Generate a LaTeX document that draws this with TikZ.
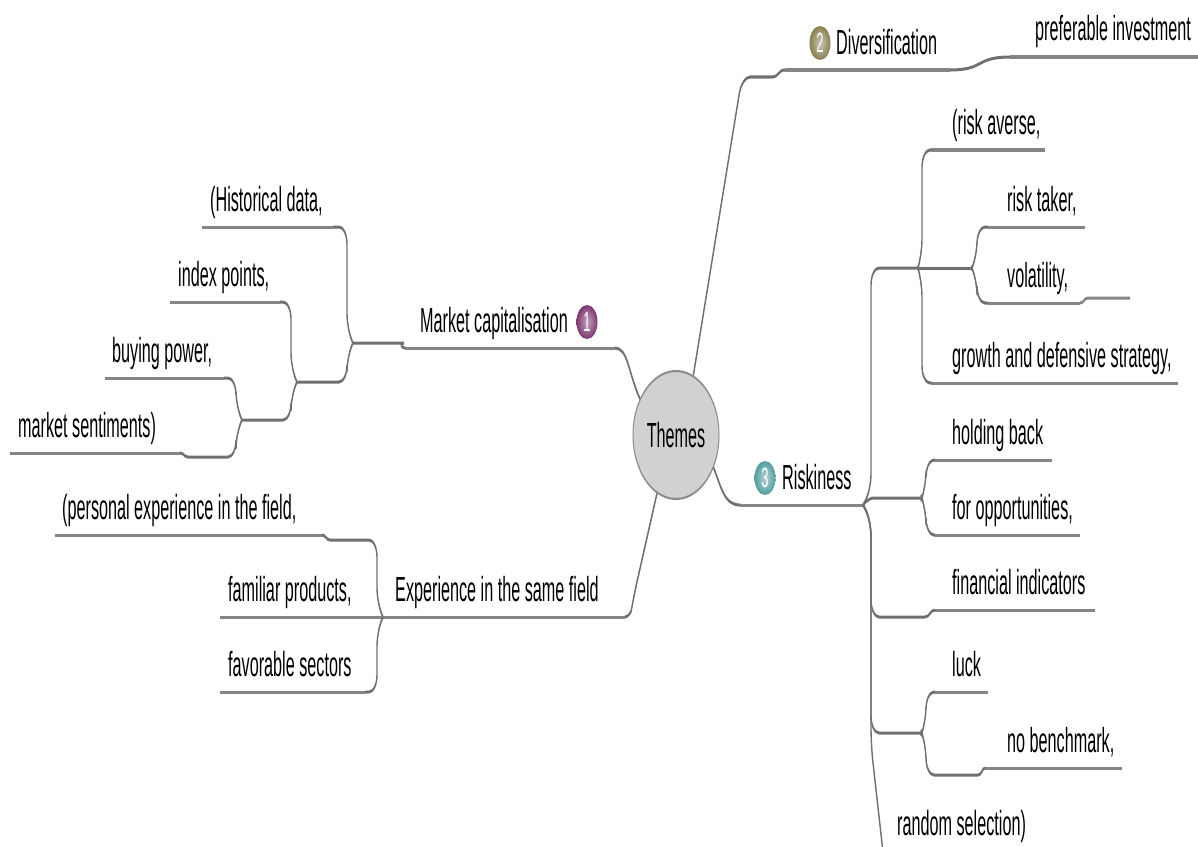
\documentclass[tikz,border=0pt]{standalone}
\usepackage{fontspec}
\setmainfont{Liberation Sans}
\usetikzlibrary{shapes.geometric}
\definecolor{mpurple}{RGB}{125,55,112}
\definecolor{molive}{RGB}{138,128,80}
\definecolor{mteal}{RGB}{85,158,158}
\definecolor{lncol}{RGB}{112,112,112}
\begin{document}
\begin{tikzpicture}[x=1pt,y=-1pt]
\useasboundingbox (0,0) rectangle (1198,846);
\clip (0,0) rectangle (1198,846);
\begin{scope}[transform canvas={yscale=2.15}, x=1pt, y=-0.465116pt,
  conn/.style={draw=lncol, line width=1.4pt, rounded corners=8pt},
  uline/.style={draw=lncol!85, line width=1.4pt},
  lbl/.style={anchor=base west, inner sep=0pt, font=\fontsize{16.2}{18}\selectfont},
  numdot/.style={ellipse, minimum width=21pt, minimum height=15.8pt, inner sep=0pt,
    text=white, font=\fontsize{13}{13}\selectfont},
  dotshade/.style={shading=radial, inner color=#1!45!white, outer color=#1}]

% root
\node[ellipse, draw=black!45, line width=1pt, fill=gray!36, minimum width=86pt,
  minimum height=59.5pt, inner sep=0pt, font=\fontsize{16.2}{18}\selectfont] (root) at (676,435) {Themes};

% ---------- coordinates ----------
\coordinate (pi-l) at (1010,57);  \coordinate (pi-r) at (1198,57);
\coordinate (dv-l) at (785,70);   \coordinate (dv-r) at (950,70);  \coordinate (dv-s) at (772,77);
\coordinate (ra-l) at (932,150);  \coordinate (ra-r) at (1045,150);
\coordinate (rt-l) at (988,227);  \coordinate (rt-r) at (1085,227);
\coordinate (vo-l) at (988,303);  \coordinate (vo-r) at (1080,303);
\coordinate (vo-x) at (1088,298); \coordinate (vo-e) at (1130,298);
\coordinate (gd-l) at (932,383);  \coordinate (gd-r) at (1178,383);
\coordinate (rk-l) at (740,505);  \coordinate (rj) at (863,505);
\coordinate (jr1) at (918,268);   \coordinate (jr2) at (972,268);
\coordinate (hj) at (922,498);
\coordinate (hb-l) at (935,460);  \coordinate (hb-r) at (1052,460);
\coordinate (fo-l) at (935,535);  \coordinate (fo-r) at (1080,535);
\coordinate (fi-s) at (925,617);  \coordinate (fi-l) at (935,610); \coordinate (fi-r) at (1095,610);
\coordinate (lj) at (922,733);
\coordinate (lu-l) at (935,692);  \coordinate (lu-r) at (988,692);
\coordinate (nb-s) at (978,775);  \coordinate (nb-l) at (985,768); \coordinate (nb-r) at (1122,768);
\coordinate (rs-c) at (885,870);

\coordinate (mc-l) at (405,348);  \coordinate (mc-r) at (615,348); \coordinate (mc-s) at (396,343);
\coordinate (j1) at (353,343);    \coordinate (j2) at (297,382);   \coordinate (j3) at (242,420);
\coordinate (hd-l) at (202,227);  \coordinate (hd-r) at (333,227);
\coordinate (ip-l) at (170,302);  \coordinate (ip-r) at (280,302);
\coordinate (bp-l) at (105,378);  \coordinate (bp-r) at (224,378);
\coordinate (ms-l) at (10,453);   \coordinate (ms-r) at (180,453); \coordinate (ms-s) at (188,457);

\coordinate (ex-l) at (383,617);  \coordinate (ex-r) at (625,617);
\coordinate (je) at (383,617);
\coordinate (pe-l) at (55,535);   \coordinate (pe-r) at (322,535); \coordinate (pe-s) at (330,540);
\coordinate (fp-l) at (220,617);  \coordinate (fp-r) at (383,617);
\coordinate (fs-l) at (220,692);  \coordinate (fs-r) at (365,692);

% ---------- underlines ----------
\foreach \u in {pi,dv,ra,rt,vo,gd,hb,fo,fi,lu,nb,mc,hd,ip,bp,ms,ex,pe,fp,fs}
  \draw[uline] (\u-l) -- (\u-r);
\draw[uline] (rk-l) -- (rj);
\draw[uline] (vo-r) .. controls (1084,303) and (1084,298) .. (vo-x) -- (vo-e);

% ---------- labels ----------
\node[lbl] (t-pi) at (1035,40) {preferable investment};
\node[lbl] (t-dv) at (836,54) {Diversification};
\node[numdot, dotshade=molive] (m2) at (820,43) {2};
\node[lbl] (t-ra) at (952,134) {(risk averse,};
\node[lbl] (t-rt) at (1007,211) {risk taker,};
\node[lbl] (t-vo) at (1007,287) {volatility,};
\node[lbl] (t-gd) at (952,367) {growth and defensive strategy,};
\node[lbl] (t-rk) at (782,489) {Riskiness};
\node[numdot, dotshade=mteal] (m3) at (765,478) {3};
\node[lbl] (t-hb) at (952,444) {holding back};
\node[lbl] (t-fo) at (952,519) {for opportunities,};
\node[lbl] (t-fi) at (952,594) {financial indicators};
\node[lbl] (t-lu) at (952,676) {luck};
\node[lbl] (t-nb) at (1007,752) {no benchmark,};
\node[lbl] (t-rs) at (897,835) {random selection)};

\node[lbl] (t-mc) at (420,332) {Market capitalisation};
\node[numdot, dotshade=mpurple] (m1) at (587,322) {1};
\node[lbl] (t-hd) at (210,211) {(Historical data,};
\node[lbl] (t-ip) at (178,286) {index points,};
\node[lbl] (t-bp) at (112,362) {buying power,};
\node[lbl] (t-ms) at (18,437) {market sentiments)};

\node[lbl] (t-ex) at (395,601) {Experience in the same field};
\node[lbl] (t-pe) at (62,519) {(personal experience in the field,};
\node[lbl] (t-fp) at (228,601) {familiar products,};
\node[lbl] (t-fs) at (228,676) {favorable sectors};

% ---------- connectors ----------
% diversification
\draw[conn] (root.58) -- (742,77) -- (dv-s);
\draw[conn] (dv-s) .. controls (779,77) and (778,70) .. (dv-l);
\draw[conn] (dv-r) .. controls (985,70) and (975,57) .. (pi-l);

% market capitalisation
\draw[conn] (root.155) .. controls (628,372) and (628,348) .. (mc-r);
\draw[conn] (mc-l) .. controls (400,348) and (401,343) .. (mc-s) -- (j1);
\draw[conn] (j1) -- ++(-6,-12) |- (hd-r);
\draw[conn] (j1) -- ++(-6,12) |- (j2);
\draw[conn] (j2) -- ++(-6,-12) |- (ip-r);
\draw[conn] (j2) -- ++(-6,12) |- (j3);
\draw[conn] (j3) -- ++(-6,-12) |- (bp-r);
\draw[conn] (j3) -- ++(-6,12) |- (ms-s);
\draw[conn] (ms-s) .. controls (184,457) and (184,453) .. (ms-r);

% experience
\draw[conn] (root.235) -- (634,595) .. controls (631,612) and (628,617) .. (ex-r);
\draw[conn] (je) -- ++(-6,-12) |- (pe-s);
\draw[conn] (pe-s) .. controls (326,540) and (326,535) .. (pe-r);
\draw[conn] (je) -- ++(-6,12) |- (fs-r);

% riskiness
\draw[conn] (root.-22) .. controls (722,490) and (725,505) .. (rk-l);
\draw[conn] (rj) -- ++(8,-14) |- (jr1);
\draw[conn] (jr1) -- ++(4,-12) |- (ra-l);
\draw[conn] (jr1) -- ++(4,12) |- (gd-l);
\draw[conn] (jr1) -- (jr2);
\draw[conn] (jr2) -- ++(5,-10) |- (rt-l);
\draw[conn] (jr2) -- ++(5,10) |- (vo-l);
\draw[conn] (rj) .. controls (869,498) and (872,498) .. (882,498) -- (hj);
\draw[conn] (hj) -- ++(4,-10) |- (hb-l);
\draw[conn] (hj) -- ++(4,10) |- (fo-l);
\draw[conn] (rj) -- ++(8,14) |- (fi-s);
\draw[conn] (fi-s) .. controls (930,617) and (930,610) .. (fi-l);
\draw[conn] (rj) -- ++(8,14) |- (lj);
\draw[conn] (lj) -- ++(4,-10) |- (lu-l);
\draw[conn] (lj) -- ++(4,10) |- (nb-s);
\draw[conn] (nb-s) .. controls (982,775) and (982,768) .. (nb-l);
\draw[conn] (rj) -- ++(8,14) -- (871,745) -- (rs-c);
\end{scope}
\end{tikzpicture}
\end{document}
